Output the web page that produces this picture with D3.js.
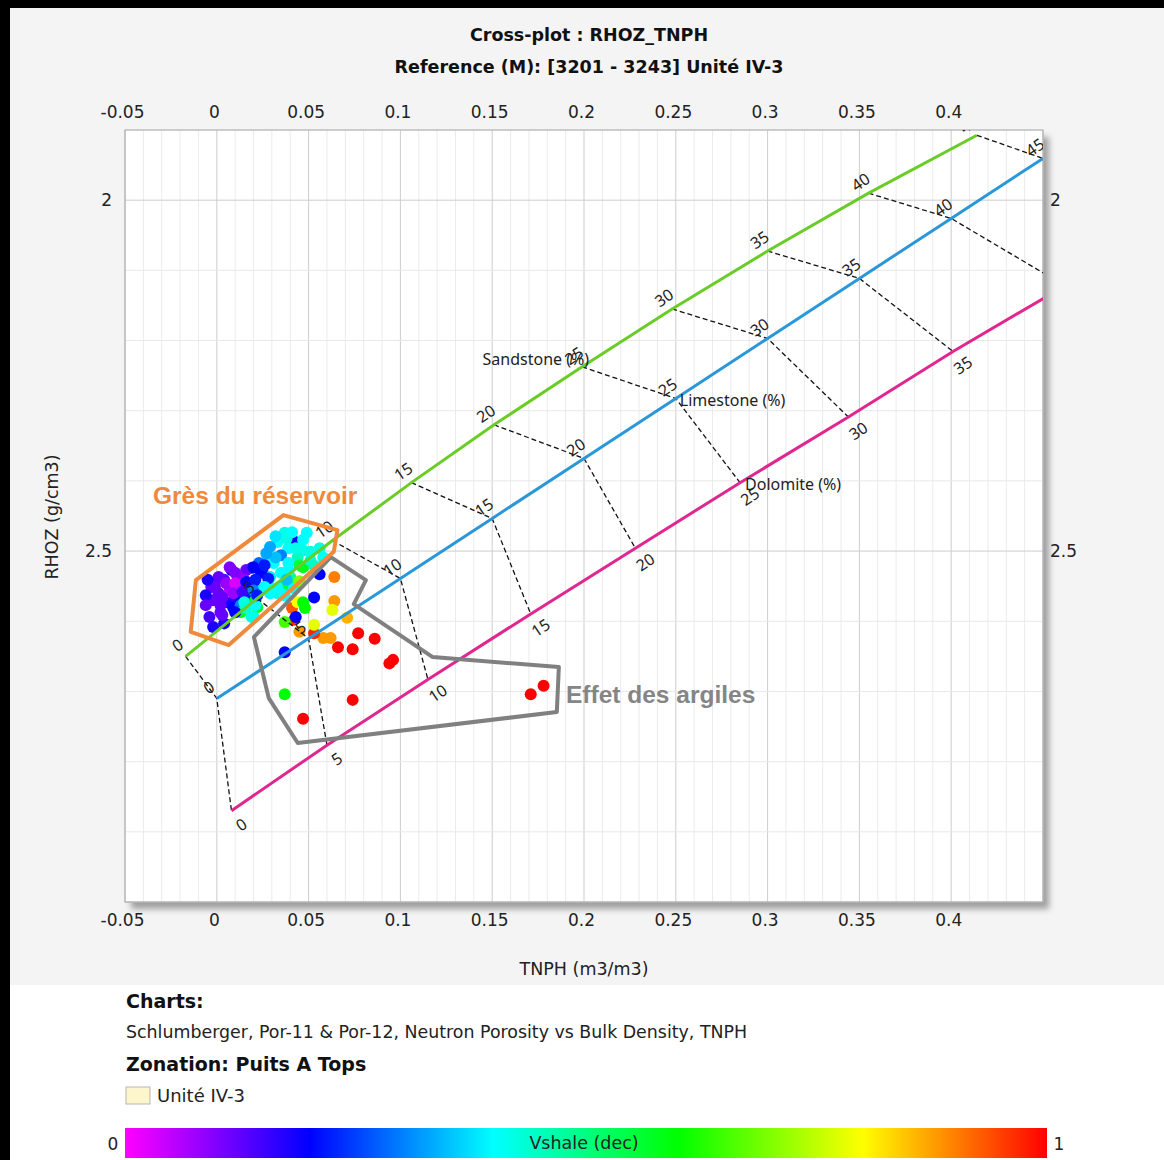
<!DOCTYPE html>
<html>
<head>
<meta charset="utf-8">
<script src="https://cdn.jsdelivr.net/npm/d3@7"></script>
<style>
  body { margin: 0; background: #fff; }
  svg { display: block; font-family: "DejaVu Sans", Verdana, sans-serif; }
</style>
</head>
<body>
<div id="chart"></div>
<script>
// ---- chart data ----
const porosity = [0, 5, 10, 15, 20, 25, 30, 35, 40, 45];

const sandstoneTNPH = [-0.017, 0.022, 0.063, 0.106, 0.151, 0.199, 0.248, 0.300, 0.355, 0.414];
const sandstoneRHOZ = [2.65, 2.5675, 2.485, 2.4025, 2.32, 2.2375, 2.155, 2.0725, 1.99, 1.9075];

const limestoneTNPH = [0, 0.05, 0.10, 0.15, 0.20, 0.25, 0.30, 0.35, 0.40, 0.45];
const limestoneRHOZ = [2.71, 2.6245, 2.539, 2.4535, 2.368, 2.2825, 2.197, 2.1115, 2.026, 1.9405];

const dolomiteTNPH = [0.008, 0.060, 0.115, 0.171, 0.228, 0.285, 0.344, 0.401, 0.462, 0.52];
const dolomiteRHOZ = [2.87, 2.7765, 2.683, 2.5895, 2.496, 2.4025, 2.309, 2.2155, 2.122, 2.0285];

const xTicks = [-0.05, 0, 0.05, 0.1, 0.15, 0.2, 0.25, 0.3, 0.35, 0.4];
const yTicks = [2, 2.5];

// [TNPH, RHOZ, Vshale]
const samples = [
  [0.037,2.474,0.42],[0.042,2.486,0.18],[0.047,2.484,0.40],[0.033,2.487,0.40],[0.029,2.494,0.33],
  [0.039,2.496,0.40],[0.047,2.499,0.42],[0.051,2.501,0.42],[0.044,2.509,0.45],[0.035,2.506,0.30],
  [0.028,2.513,0.38],[0.023,2.517,0.28],[0.031,2.517,0.40],[0.039,2.517,0.40],[0.045,2.520,0.55],
  [0.019,2.524,0.07],[0.016,2.527,0.12],[0.025,2.531,0.22],[0.029,2.537,0.38],[0.035,2.531,0.40],
  [0.040,2.537,0.48],[0.008,2.527,0.20],[0.011,2.534,0.08],[0.004,2.541,0.12],[0.001,2.539,0.18],
  [-0.003,2.551,0.12],[0.001,2.560,0.12],[0.007,2.556,0.06],[0.011,2.551,0.03],[0.015,2.541,0.08],
  [0.020,2.546,0.20],[0.024,2.556,0.38],[0.029,2.551,0.40],[0.033,2.560,0.42],[0.020,2.567,0.40],
  [0.016,2.563,0.22],[0.011,2.566,0.20],[0.007,2.574,0.18],[0.002,2.577,0.12],[-0.002,2.570,0.12],
  [0.002,2.587,0.12],[0.009,2.581,0.20],[0.013,2.577,0.30],[0.022,2.580,0.58],[0.019,2.594,0.42],
  [0.013,2.587,0.58],[-0.002,2.608,0.18],[0.004,2.603,0.18],[0.007,2.523,0.10],[0.001,2.537,0.12],
  [0.010,2.531,0.10],[0.020,2.523,0.20],[0.024,2.530,0.20],[-0.001,2.551,0.12],[0.005,2.546,0.08],
  [0.010,2.546,0.03],[0.016,2.544,0.20],[0.021,2.541,0.22],[0.003,2.566,0.12],[0.009,2.560,0.08],
  [0.014,2.558,0.15],[0.020,2.556,0.30],[0.015,2.573,0.42],[0.021,2.570,0.58],[0.016,2.581,0.43],
  [0.021,2.577,0.40],[0.003,2.591,0.12],[0.010,2.587,0.20],[0.020,2.594,0.42],[0.026,2.520,0.22],
  [0.028,2.539,0.22],[0.039,2.527,0.40],[0.047,2.523,0.58],[0.026,2.551,0.40],[0.034,2.551,0.40],
  [0.039,2.548,0.55],[0.042,2.553,0.40],[0.022,2.563,0.22],[0.029,2.560,0.40],[0.037,2.563,0.40],
  [0.045,2.543,0.70],[0.038,2.541,0.35],[0.051,2.513,0.42],[0.043,2.496,0.42],[0.038,2.482,0.42],
  [-0.006,2.563,0.18],[-0.005,2.541,0.18],[0.032,2.509,0.35],[0.027,2.503,0.33],
  [0.056,2.496,0.42],[0.058,2.509,0.40],[0.053,2.521,0.45],[0.049,2.474,0.40],[0.041,2.473,0.40],
  [0.032,2.479,0.38],[-0.006,2.577,0.12],[-0.004,2.594,0.15],
  // shaly points
  [0.056,2.533,0.20],[0.064,2.537,0.90],[0.053,2.566,0.20],[0.064,2.571,0.88],[0.063,2.584,0.78],
  [0.041,2.581,0.93],[0.044,2.573,0.80],[0.047,2.573,0.60],[0.048,2.581,0.60],[0.071,2.595,0.86],
  [0.077,2.617,1.00],[0.086,2.625,1.00],[0.074,2.640,1.00],[0.066,2.637,1.00],[0.062,2.624,0.88],
  [0.058,2.624,0.88],[0.053,2.617,0.97],[0.053,2.605,0.78],[0.094,2.660,1.00],[0.096,2.655,1.00],
  [0.037,2.644,0.20],[0.037,2.704,0.60],[0.074,2.712,1.00],[0.047,2.739,1.00],[0.171,2.704,1.00],
  [0.178,2.692,1.00],[0.042,2.598,0.97],[0.045,2.615,0.88],[0.037,2.601,0.65],[0.043,2.594,0.20]
];

// hand drawn zones
const reservoirZone = [[-0.0114,2.5413],[0.0363,2.4487],[0.0657,2.4701],[0.0637,2.501],[0.0065,2.6339],[-0.0142,2.615]];
const clayZone = [[0.0621,2.5085],[0.0812,2.5413],[0.0746,2.5755],[0.1176,2.651],[0.1863,2.6652],[0.1852,2.7293],[0.0441,2.7735],[0.0283,2.7094],[0.0202,2.6225]];

const vshStops = [0, 0.2, 0.4, 0.6, 0.8, 1];
const vshColors = ["#ff00ff", "#0000ff", "#00ffff", "#00ff00", "#ffff00", "#ff0000"];

// ---- canvas ----
var width = 1164, height = 1160;
var svg = d3.select("#chart").append("svg")
    .attr("width", width)
    .attr("height", height);

svg.append("rect").attr("width", width).attr("height", height).attr("fill", "#fff");
svg.append("rect").attr("width", width).attr("height", 985).attr("fill", "#f4f4f4");
svg.append("rect").attr("width", width).attr("height", 8).attr("fill", "#000");
svg.append("rect").attr("width", 10).attr("height", height).attr("fill", "#000");

const x = d3.scaleLinear().domain([-0.05, 0.45]).range([125, 1043]);
const y = d3.scaleLinear().domain([1.9, 3.0]).range([130, 902]);
const color = d3.scaleLinear().domain(vshStops).range(vshColors);

const defs = svg.append("defs");
const shadow = defs.append("filter").attr("id", "shadow")
    .attr("x", "-5%").attr("y", "-5%").attr("width", "115%").attr("height", "115%");
shadow.append("feDropShadow").attr("dx", 6).attr("dy", 7).attr("stdDeviation", 3)
    .attr("flood-color", "#000").attr("flood-opacity", 0.35);

defs.append("clipPath").attr("id", "plotclip")
  .append("rect")
    .attr("x", x.range()[0]).attr("y", y.range()[0])
    .attr("width", x.range()[1] - x.range()[0])
    .attr("height", y.range()[1] - y.range()[0]);

// plot background
svg.append("rect")
    .attr("x", x.range()[0]).attr("y", y.range()[0])
    .attr("width", x.range()[1] - x.range()[0])
    .attr("height", y.range()[1] - y.range()[0])
    .attr("fill", "#fff")
    .attr("filter", "url(#shadow)");

// grid
var grid = svg.append("g");
var vLines = d3.range(0, 51).map(i => ({v: -0.05 + i * 0.01, major: i % 5 == 0}));
var hLines = d3.range(0, 12).map(i => ({v: 1.9 + i * 0.1, major: (i - 1) % 5 == 0}));

grid.selectAll(".vl").data(vLines).join("line")
    .attr("x1", d => x(d.v)).attr("x2", d => x(d.v))
    .attr("y1", y.range()[0]).attr("y2", y.range()[1])
    .attr("stroke", d => d.major ? "#cdcdcd" : "#ebebeb")
    .attr("stroke-width", 1);
grid.selectAll(".hl").data(hLines).join("line")
    .attr("y1", d => y(d.v)).attr("y2", d => y(d.v))
    .attr("x1", x.range()[0]).attr("x2", x.range()[1])
    .attr("stroke", d => d.major ? "#cdcdcd" : "#e8e8e8")
    .attr("stroke-width", 1);

svg.append("rect")
    .attr("x", x.range()[0]).attr("y", y.range()[0])
    .attr("width", x.range()[1] - x.range()[0])
    .attr("height", y.range()[1] - y.range()[0])
    .attr("fill", "none").attr("stroke", "#a8a8a8");

// axes
const fmt = d => String(d);
function styleAxis(g) {
  g.select(".domain").remove();
  g.selectAll("text").attr("font-size", 17).attr("fill", "#222")
    .attr("font-family", "DejaVu Sans, Verdana, sans-serif");
}
svg.append("g").attr("transform", "translate(-3,130)")
    .call(d3.axisTop(x).tickValues(xTicks).tickSize(0).tickPadding(12).tickFormat(fmt))
    .call(styleAxis);
svg.append("g").attr("transform", "translate(-3,902)")
    .call(d3.axisBottom(x).tickValues(xTicks).tickSize(0).tickPadding(12).tickFormat(fmt))
    .call(styleAxis);
svg.append("g").attr("transform", "translate(125,0)")
    .call(d3.axisLeft(y).tickValues(yTicks).tickSize(0).tickPadding(13).tickFormat(fmt))
    .call(styleAxis);
svg.append("g").attr("transform", "translate(1043,0)")
    .call(d3.axisRight(y).tickValues(yTicks).tickSize(0).tickPadding(7).tickFormat(fmt))
    .call(styleAxis);

// titles
svg.append("text").attr("x", 589).attr("y", 41).attr("text-anchor", "middle")
    .attr("font-size", 17.5).attr("font-weight", "bold").attr("fill", "#111")
    .text("Cross-plot : RHOZ_TNPH");
svg.append("text").attr("x", 589).attr("y", 73).attr("text-anchor", "middle")
    .attr("font-size", 17.5).attr("font-weight", "bold").attr("fill", "#111")
    .text("Reference (M): [3201 - 3243] Unité IV-3");
svg.append("text").attr("x", 584).attr("y", 975).attr("text-anchor", "middle")
    .attr("font-size", 17.5).attr("fill", "#222").text("TNPH (m3/m3)");
svg.append("text").attr("transform", "translate(58,517) rotate(-90)").attr("text-anchor", "middle")
    .attr("font-size", 17.5).attr("fill", "#222").text("RHOZ (g/cm3)");

// ---- plot content ----
var plot = svg.append("g").attr("clip-path", "url(#plotclip)");

var sand = d3.zip(sandstoneTNPH, sandstoneRHOZ, porosity);
var lime = d3.zip(limestoneTNPH, limestoneRHOZ, porosity);
var dolo = d3.zip(dolomiteTNPH, dolomiteRHOZ, porosity);

const line = d3.line().x(d => x(d[0])).y(d => y(d[1]));

// samples
plot.append("g").selectAll("circle")
    .data(samples)
    .join("circle")
    .attr("cx", d => x(d[0]))
    .attr("cy", d => y(d[1]))
    .attr("r", 6)
    .attr("fill", d => color(d[2]));

// iso-porosity connectors
plot.append("g").selectAll("path")
    .data(porosity.map((p, i) => [sand[i], lime[i], dolo[i]]))
    .join("path")
    .attr("d", line)
    .attr("fill", "none")
    .attr("stroke", "#111")
    .attr("stroke-width", 1.3)
    .attr("stroke-dasharray", "5,3");

// lithology lines
var lith = [
  {pts: sand, color: "#6acc26", off: [-8, -11]},
  {pts: lime, color: "#2a97d9", off: [-8, -11]},
  {pts: dolo, color: "#e0268f", off: [10, 14]}
];
plot.append("g").selectAll("path")
    .data(lith)
    .join("path")
    .attr("d", d => line(d.pts))
    .attr("fill", "none")
    .attr("stroke", d => d.color)
    .attr("stroke-width", 3);

const inside = d => d[0] <= x.domain()[1] && d[1] >= y.domain()[0];
lith.forEach(l => {
  plot.append("g").selectAll("text")
    .data(l.pts.filter(inside))
    .join("text")
    .attr("transform", d => `translate(${x(d[0]) + l.off[0]},${y(d[1]) + l.off[1]}) rotate(-34)`)
    .attr("text-anchor", "middle")
    .attr("dy", "0.35em")
    .attr("font-family", "Noto Sans, sans-serif")
    .attr("font-size", 16)
    .attr("fill", "#222")
    .text(d => d[2]);
});

// lithology names
plot.append("text").attr("x", x(sand[5][0]) + 7).attr("y", y(sand[5][1]) - 2)
    .attr("text-anchor", "end").attr("font-family", "Noto Sans, sans-serif")
    .attr("font-size", 16).attr("fill", "#222").text("Sandstone (%)");
plot.append("text").attr("x", x(lime[5][0]) + 4).attr("y", y(lime[5][1]) + 8)
    .attr("font-family", "Noto Sans, sans-serif")
    .attr("font-size", 16).attr("fill", "#222").text("Limestone (%)");
plot.append("text").attr("x", x(dolo[5][0]) + 5).attr("y", y(dolo[5][1]) + 7)
    .attr("font-family", "Noto Sans, sans-serif")
    .attr("font-size", 16).attr("fill", "#222").text("Dolomite (%)");

// zones
const zoneLine = d3.line().x(d => x(d[0])).y(d => y(d[1])).curve(d3.curveLinearClosed);
plot.append("path").attr("d", zoneLine(clayZone))
    .attr("fill", "none").attr("stroke", "#808080").attr("stroke-width", 4)
    .attr("stroke-linejoin", "round");
plot.append("path").attr("d", zoneLine(reservoirZone))
    .attr("fill", "none").attr("stroke", "#ef8a3c").attr("stroke-width", 4)
    .attr("stroke-linejoin", "round");

svg.append("text").attr("x", 153).attr("y", 504)
    .attr("font-family", "Liberation Sans, Arial, sans-serif")
    .attr("font-size", 24.5).attr("font-weight", "bold").attr("fill", "#ef8a3c")
    .text("Grès du réservoir");
svg.append("text").attr("x", 566).attr("y", 703)
    .attr("font-family", "Liberation Sans, Arial, sans-serif")
    .attr("font-size", 24.5).attr("font-weight", "bold").attr("fill", "#858585")
    .text("Effet des argiles");

// ---- legend ----
svg.append("text").attr("x", 126).attr("y", 1008)
    .attr("font-size", 19).attr("font-weight", "bold").attr("fill", "#111").text("Charts:");
svg.append("text").attr("x", 126).attr("y", 1038)
    .attr("font-size", 17.4).attr("fill", "#222")
    .text("Schlumberger, Por-11 & Por-12, Neutron Porosity vs Bulk Density, TNPH");
svg.append("text").attr("x", 126).attr("y", 1071)
    .attr("font-size", 19).attr("font-weight", "bold").attr("fill", "#111").text("Zonation: Puits A Tops");
svg.append("rect").attr("x", 126).attr("y", 1087).attr("width", 24).attr("height", 17)
    .attr("fill", "#fdf6cc").attr("stroke", "#b5b5b5");
svg.append("text").attr("x", 157).attr("y", 1102)
    .attr("font-size", 18).attr("fill", "#222").text("Unité IV-3");

// colour bar
const grad = defs.append("linearGradient").attr("id", "vsh");
grad.selectAll("stop").data(vshStops).join("stop")
    .attr("offset", d => d * 100 + "%")
    .attr("stop-color", d => color(d));
svg.append("rect").attr("x", 125).attr("y", 1128).attr("width", 922).attr("height", 30)
    .attr("fill", "url(#vsh)");
svg.append("text").attr("x", 113).attr("y", 1150).attr("text-anchor", "middle")
    .attr("font-size", 17).attr("fill", "#222").text("0");
svg.append("text").attr("x", 1059).attr("y", 1150).attr("text-anchor", "middle")
    .attr("font-size", 17).attr("fill", "#222").text("1");
svg.append("text").attr("x", 584).attr("y", 1149).attr("text-anchor", "middle")
    .attr("font-size", 17.5).attr("fill", "#222").text("Vshale (dec)");
</script>
</body>
</html>
